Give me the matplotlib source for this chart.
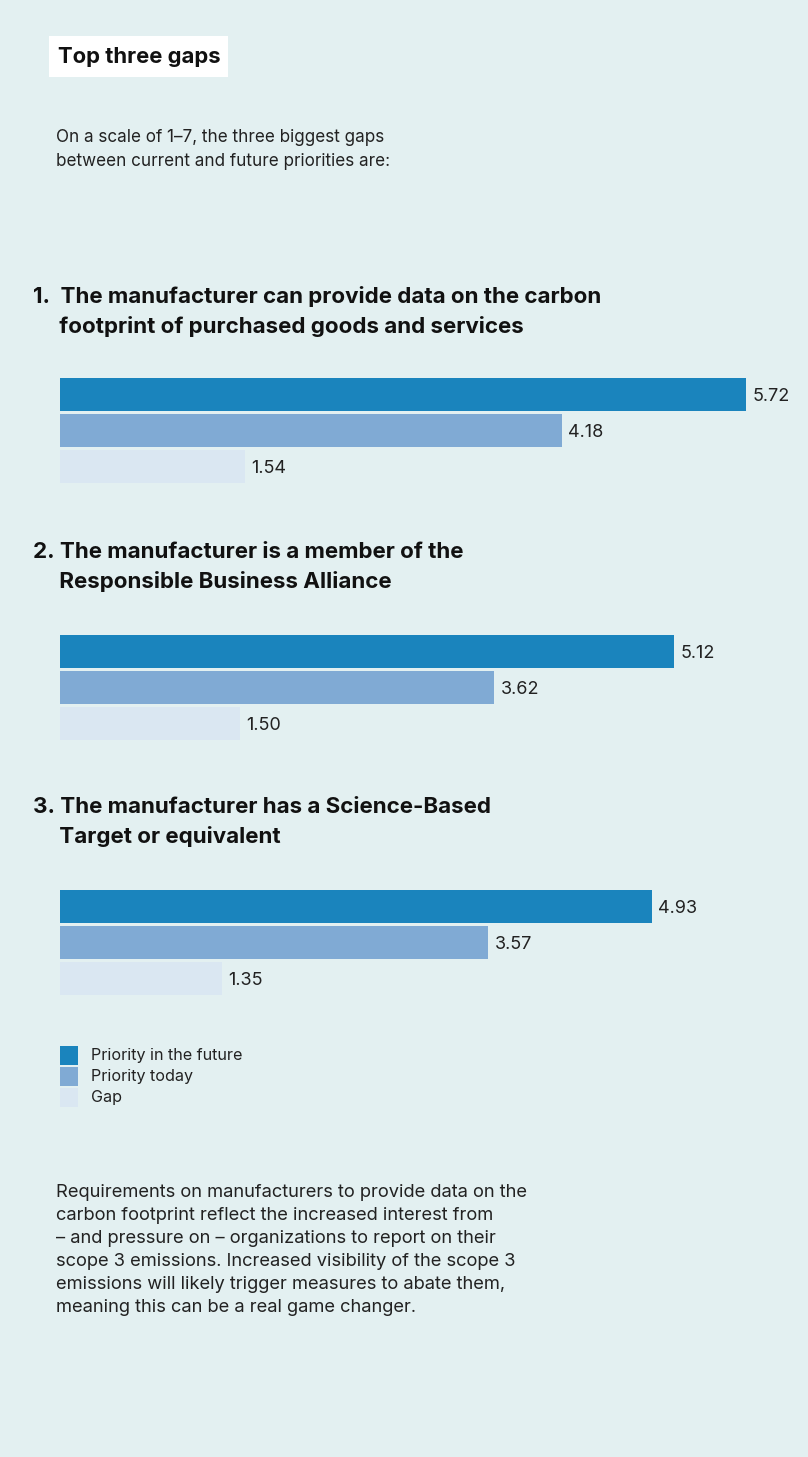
import matplotlib
matplotlib.use("Agg")
import matplotlib.pyplot as plt
from matplotlib.patches import Rectangle

plt.rcParams['font.family'] = ['Inter', 'DejaVu Sans']

W, H = 808, 1457
BG = '#e3f0f1'
colors = ['#1a84bd', '#80aad4', '#dae7f2']
series = ['Priority in the future', 'Priority today', 'Gap']

headings = ["1.  The manufacturer can provide data on the carbon\n     footprint of purchased goods and services",
            "2. The manufacturer is a member of the\n     Responsible Business Alliance",
            "3. The manufacturer has a Science-Based\n     Target or equivalent"]
future = [5.72, 5.12, 4.93]
today = [4.18, 3.62, 3.57]
gap = [1.54, 1.50, 1.35]

note = ("Requirements on manufacturers to provide data on the\n"
        "carbon footprint reflect the increased interest from\n"
        "– and pressure on – organizations to report on their\n"
        "scope 3 emissions. Increased visibility of the scope 3\n"
        "emissions will likely trigger measures to abate them,\n"
        "meaning this can be a real game changer.")

fig = plt.figure(figsize=(W/100, H/100), dpi=100, facecolor=BG)

def fx(x): return x / W
def fy(y): return 1 - y / H

# title box
fig.patches.append(Rectangle((fx(49), fy(77)), fx(179), 41/H, transform=fig.transFigure,
                             facecolor='white', edgecolor='none'))
fig.text(fx(58), fy(57), "Top three gaps", fontsize=15.9, fontweight='bold', va='center', color='#111111')
fig.text(fx(56), fy(149.5), "On a scale of 1–7, the three biggest gaps\nbetween current and future priorities are:",
         fontsize=12.3, va='center', linespacing=1.55, color='#222222')

heading_y = [311.5, 567, 822]
bar_top = [376.5, 633.5, 888.5]
for i in range(3):
    fig.text(fx(33), fy(heading_y[i]), headings[i], fontsize=16.1, fontweight='bold', va='center',
             linespacing=1.52, color='#111111')
    ax = fig.add_axes([fx(60), fy(bar_top[i] + 108), fx(700), 108/H])
    ax.set_facecolor('none')
    vals = [future[i], today[i], gap[i]]
    ax.barh(range(3), vals, height=0.92, color=colors)
    for j, v in enumerate(vals):
        ax.text(v + 0.05, j + 0.06, f"{v:.2f}", va='center', fontsize=13, color='#222222')
    ax.set_xlim(0, 700/120)
    ax.set_ylim(2.5, -0.5)
    ax.axis('off')

# legend
for k in range(3):
    y0 = 1046 + k * 21
    fig.patches.append(Rectangle((fx(60), fy(y0 + 19)), fx(18), 19/H, transform=fig.transFigure,
                                 facecolor=colors[k], edgecolor='none'))
    fig.text(fx(91), fy(y0 + 9.5), series[k], fontsize=11.6, va='center', color='#222222')

fig.text(fx(56), fy(1250), note, fontsize=13.2, va='center', linespacing=1.46, color='#222222')

fig.savefig('out.png', dpi=100, facecolor=BG)
